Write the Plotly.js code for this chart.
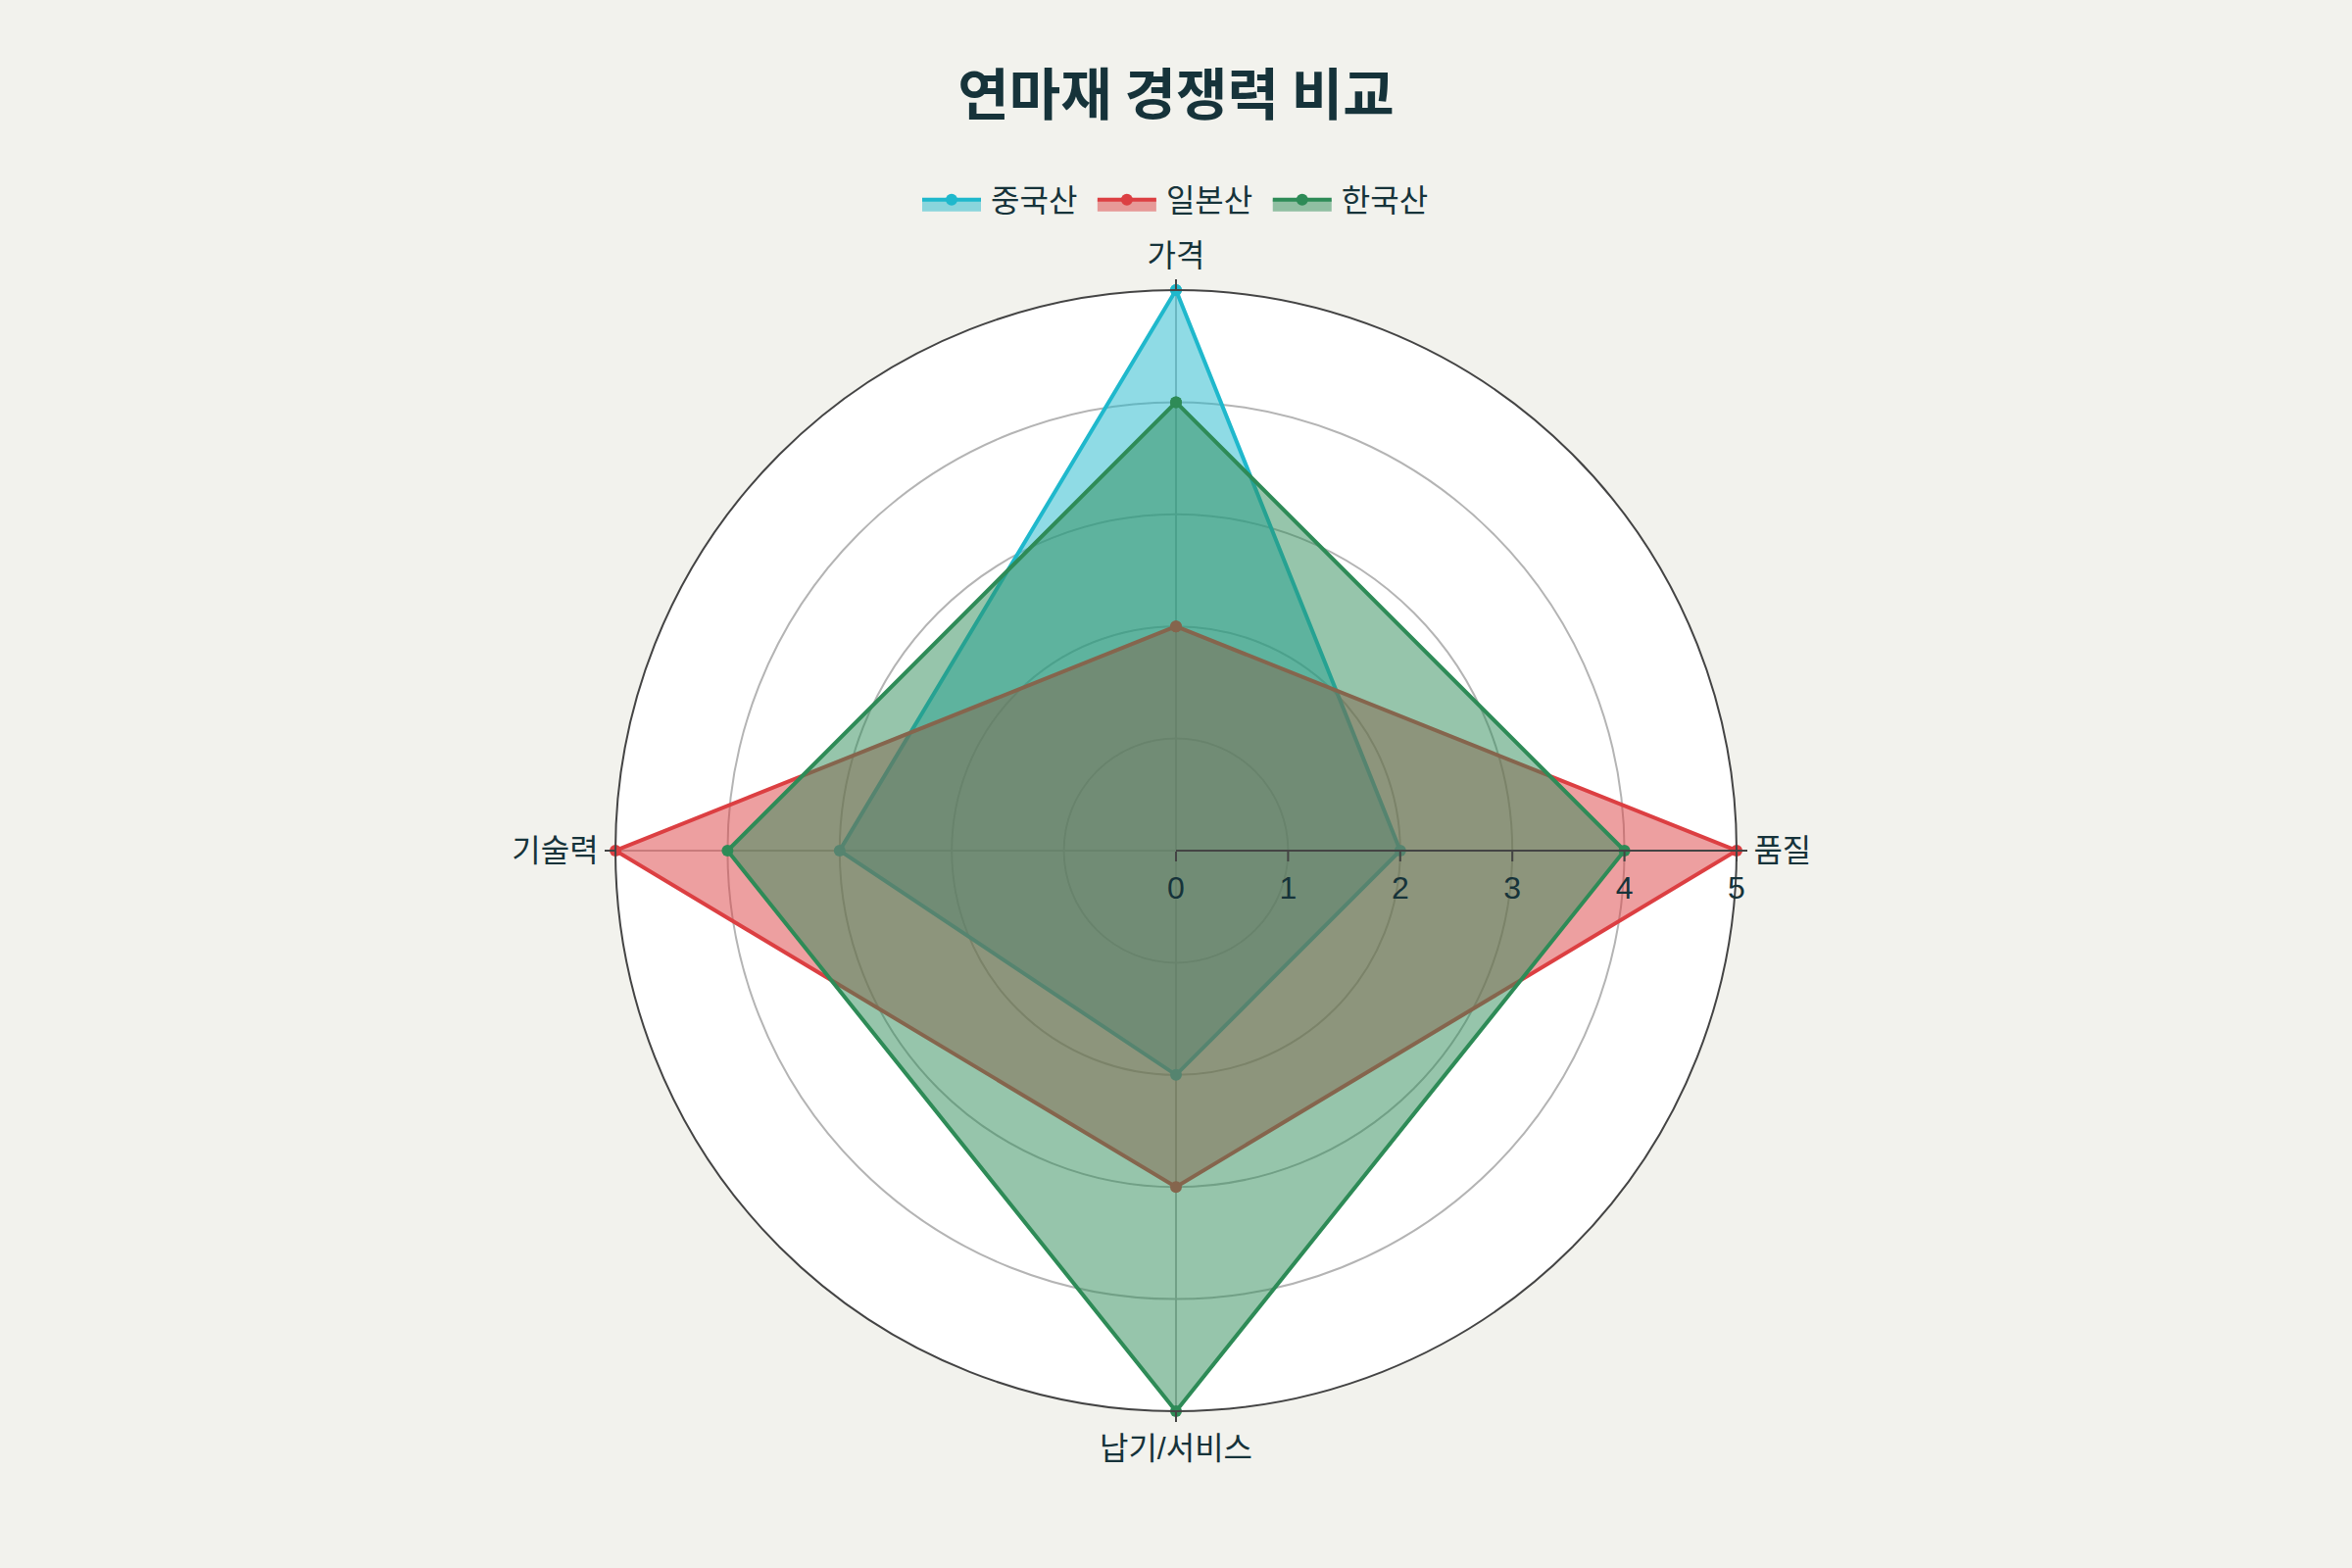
<!DOCTYPE html>
<html>
<head>
<meta charset="utf-8">
<script src="https://cdn.plot.ly/plotly-3.0.1.min.js"></script>
<style>
  html, body { margin: 0; padding: 0; background: #f2f2ed; }
  #chart { width: 1200px; height: 800px; zoom: 2; }
</style>
</head>
<body>
<div id="chart"></div>
<script>
// drawn at 1200x800 and zoomed x2 on the page
var categories = ['가격', '품질', '납기/서비스', '기술력'];
var seriesNames = ['중국산', '일본산', '한국산'];
var chinaValues = [5, 2, 2, 3];
var japanValues = [2, 5, 3, 5];
var koreaValues = [4, 4, 5, 4];
var radialTicks = [0, 1, 2, 3, 4, 5];

var lineColors = ['#1fb8cc', '#dc3f42', '#2e8b57'];
var fillColors = ['rgba(31,184,204,0.5)', 'rgba(220,63,66,0.5)', 'rgba(46,139,87,0.5)'];

function closeLoop(arr) {
    return arr.concat([arr[0]]);
}

var allValues = [chinaValues, japanValues, koreaValues];

var data = allValues.map(function (vals, i) {
    return {
        type: 'scatterpolar',
        r: closeLoop(vals),
        theta: closeLoop(categories),
        name: seriesNames[i],
        mode: 'lines+markers',
        fill: 'toself',
        fillcolor: fillColors[i],
        line: {color: lineColors[i], width: 2},
        marker: {color: lineColors[i], size: 6}
    };
});

var textColor = '#16333a';
var fontFamily = '"Liberation Sans", "Noto Sans CJK KR", sans-serif';

var layout = {
    width: 1200,
    height: 800,
    paper_bgcolor: '#f2f2ed',
    font: {family: fontFamily, color: textColor, size: 16},
    title: {
        text: '<b>연마재 경쟁력 비교</b>',
        font: {family: '"Noto Sans CJK KR", sans-serif', size: 28.5, color: textColor},
        x: 0.5,
        xanchor: 'center',
        yref: 'container',
        y: 1 - 48.5 / 800,
        yanchor: 'middle'
    },
    showlegend: true,
    legend: {
        orientation: 'h',
        x: 0.5,
        xanchor: 'center',
        yref: 'container',
        y: 1 - 102 / 800,
        yanchor: 'middle',
        font: {size: 16, color: textColor},
        bgcolor: 'rgba(0,0,0,0)'
    },
    margin: {l: 100, r: 100, t: 148, b: 80},
    polar: {
        bgcolor: '#ffffff',
        domain: {x: [0, 1], y: [0, 1]},
        radialaxis: {
            range: [0, 5],
            tickvals: radialTicks,
            angle: 0,
            tickangle: 0,
            showline: true,
            linecolor: '#444444',
            linewidth: 1,
            ticks: 'outside',
            ticklen: 5,
            tickwidth: 1,
            tickcolor: '#444444',
            gridcolor: '#b4b4b4',
            gridwidth: 1,
            tickfont: {size: 16, color: textColor}
        },
        angularaxis: {
            direction: 'clockwise',
            rotation: 90,
            showline: true,
            linecolor: '#444444',
            linewidth: 1,
            ticks: 'outside',
            ticklen: 5,
            tickwidth: 1,
            tickcolor: '#444444',
            gridcolor: '#b4b4b4',
            gridwidth: 1,
            tickfont: {size: 16, color: textColor}
        }
    }
};

Plotly.newPlot('chart', data, layout, {displayModeBar: false});
</script>
</body>
</html>
